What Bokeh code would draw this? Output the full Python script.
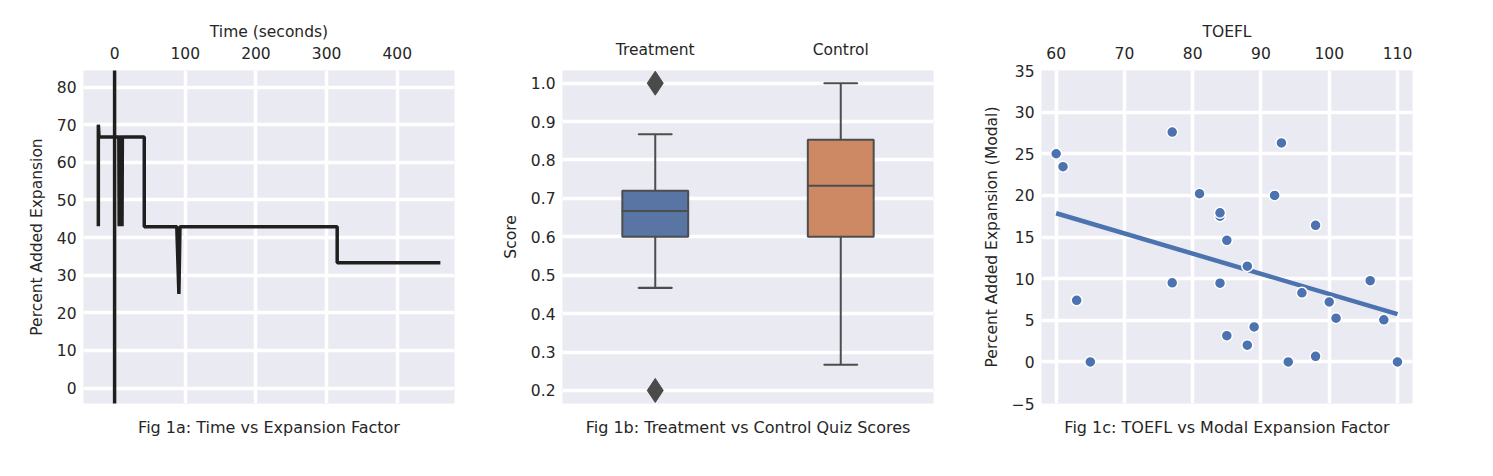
from bokeh.plotting import figure
from bokeh.layouts import row
from bokeh.models import FixedTicker, ColumnDataSource, NumeralTickFormatter
from bokeh.embed import file_html
from bokeh.resources import INLINE

# Fig 1a: time vs expansion (step path)
time_s = [-23, -23, -22, 6, 6.5, 7, 10, 10.5, 11, 42, 42, 88, 91, 92.5, 315, 315, 461]
expansion = [43, 70, 66.7, 66.7, 43, 66.7, 66.7, 43, 66.7, 66.7, 42.9, 42.9, 25, 42.9, 42.9, 33.3, 33.3]

# Fig 1b: box stats
groups = ["Treatment", "Control"]
q1 = [0.6, 0.6]
med = [0.667, 0.733]
q3 = [0.72, 0.853]
low = [0.467, 0.267]
high = [0.867, 1.0]
box_colors = ["#5975a4", "#cc8963"]
outlier_group = ["Treatment", "Treatment"]
outlier_val = [1.0, 0.2]

# Fig 1c: TOEFL vs modal expansion
toefl = [60, 61, 63, 65, 77, 77, 81, 84, 84, 84, 85, 85, 88, 88, 89, 92, 93, 94, 96, 98, 98, 100, 101, 106, 108, 110]
modal = [25.0, 23.45, 7.4, 0.0, 27.6, 9.5, 20.2, 17.5, 17.9, 9.45, 14.6, 3.15, 11.5, 2.0, 4.2, 20.0, 26.3, 0.0, 8.3, 16.4, 0.67, 7.2, 5.25, 9.75, 5.05, 0.0]
fit_x = [60, 110]
fit_y = [17.85, 5.73]

FONT = "DejaVu Sans"
TXT = "#262626"
BG = "#eaeaf2"
FS = "15.5px"


def style(p, ylabel, xlabel=None, caption=""):
    p.background_fill_color = BG
    p.outline_line_color = None
    p.border_fill_color = "white"
    for ax in [p.xaxis[0], p.yaxis[0]]:
        ax.axis_line_color = None
        ax.major_tick_line_color = None
        ax.minor_tick_line_color = None
        ax.major_label_text_font = FONT
        ax.major_label_text_font_size = FS
        ax.major_label_text_color = TXT
        ax.axis_label_text_font = FONT
        ax.axis_label_text_font_size = FS
        ax.axis_label_text_font_style = "normal"
        ax.axis_label_text_color = TXT
    p.xaxis.major_label_standoff = 6
    p.xaxis.axis_label_standoff = 3
    p.yaxis.major_label_standoff = 1
    p.yaxis.axis_label_standoff = 8
    p.yaxis.axis_label = ylabel
    if xlabel:
        p.xaxis.axis_label = xlabel
    p.grid.grid_line_color = "white"
    p.grid.grid_line_width = 3.5
    p.title.text = caption
    p.title.align = "center"
    p.title.text_font = FONT
    p.title.text_font_size = "16px"
    p.title.text_font_style = "normal"
    p.title.text_color = TXT
    p.title.standoff = 24


def make_fig(x_range, y_range, left, right):
    return figure(frame_width=371, frame_height=333, x_range=x_range, y_range=y_range,
                  x_axis_location="above", title_location="below",
                  min_border_left=left, min_border_right=right, min_border_top=70,
                  min_border_bottom=40, output_backend="svg", toolbar_location=None)


# --- panel a
p1 = make_fig((-44, 481), (-4.1, 84.4), 83, 34)
style(p1, "Percent Added Expansion", "Time (seconds)", "Fig 1a: Time vs Expansion Factor")
p1.xaxis.ticker = FixedTicker(ticks=[0, 100, 200, 300, 400])
p1.yaxis.ticker = FixedTicker(ticks=list(range(0, 81, 10)))
p1.line(time_s, expansion, line_color="#1f1f1f", line_width=3.5)
p1.segment(x0=[0], y0=[-10], x1=[0], y1=[90], line_color="#1f1f1f", line_width=3.5)

# --- panel b
p2 = make_fig(groups, (0.166, 1.033), 74, 35)
style(p2, "Score", None, "Fig 1b: Treatment vs Control Quiz Scores")
p2.xgrid.visible = False
p2.yaxis.ticker = FixedTicker(ticks=[0.2, 0.3, 0.4, 0.5, 0.6, 0.7, 0.8, 0.9, 1.0])
p2.yaxis.formatter = NumeralTickFormatter(format="0.0")
src = ColumnDataSource(dict(g=groups, q1=q1, med=med, q3=q3, low=low, high=high, c=box_colors))
edge = "#4d4d4d"
p2.segment(x0="g", y0="q3", x1="g", y1="high", source=src, line_color=edge, line_width=2)
p2.segment(x0="g", y0="low", x1="g", y1="q1", source=src, line_color=edge, line_width=2)
p2.rect(x="g", y="high", width=0.18, height=0.0001, source=src, line_color=edge, line_width=2, fill_alpha=0)
p2.rect(x="g", y="low", width=0.18, height=0.0001, source=src, line_color=edge, line_width=2, fill_alpha=0)
p2.vbar(x="g", bottom="q1", top="q3", width=0.355, source=src, fill_color="c", line_color=edge, line_width=2)
p2.rect(x="g", y="med", width=0.355, height=0.0001, source=src, line_color=edge, line_width=2, fill_alpha=0)
p2.scatter(outlier_group, outlier_val, marker="diamond", size=24, fill_color="#4a4a4a", line_color="#4a4a4a")

# --- panel c
p3 = make_fig((57.85, 112.2), (-5, 35), 73, 36)
style(p3, "Percent Added Expansion (Modal)", "TOEFL", "Fig 1c: TOEFL vs Modal Expansion Factor")
p3.xaxis.ticker = FixedTicker(ticks=[60, 70, 80, 90, 100, 110])
p3.yaxis.ticker = FixedTicker(ticks=[-5, 0, 5, 10, 15, 20, 25, 30, 35])
p3.yaxis.major_label_overrides = {-5: "\u22125"}
p3.ygrid.ticker = FixedTicker(ticks=[0, 5, 10, 15, 20, 25, 30])
p3.line(fit_x, fit_y, line_color="#4c72b0", line_width=4.5)
p3.scatter(toefl, modal, size=11, fill_color="#4c72b0", line_color="white", line_width=1.5)

layout = row(p1, p2, p3)
open("out.html", "w").write(file_html(layout, INLINE))
